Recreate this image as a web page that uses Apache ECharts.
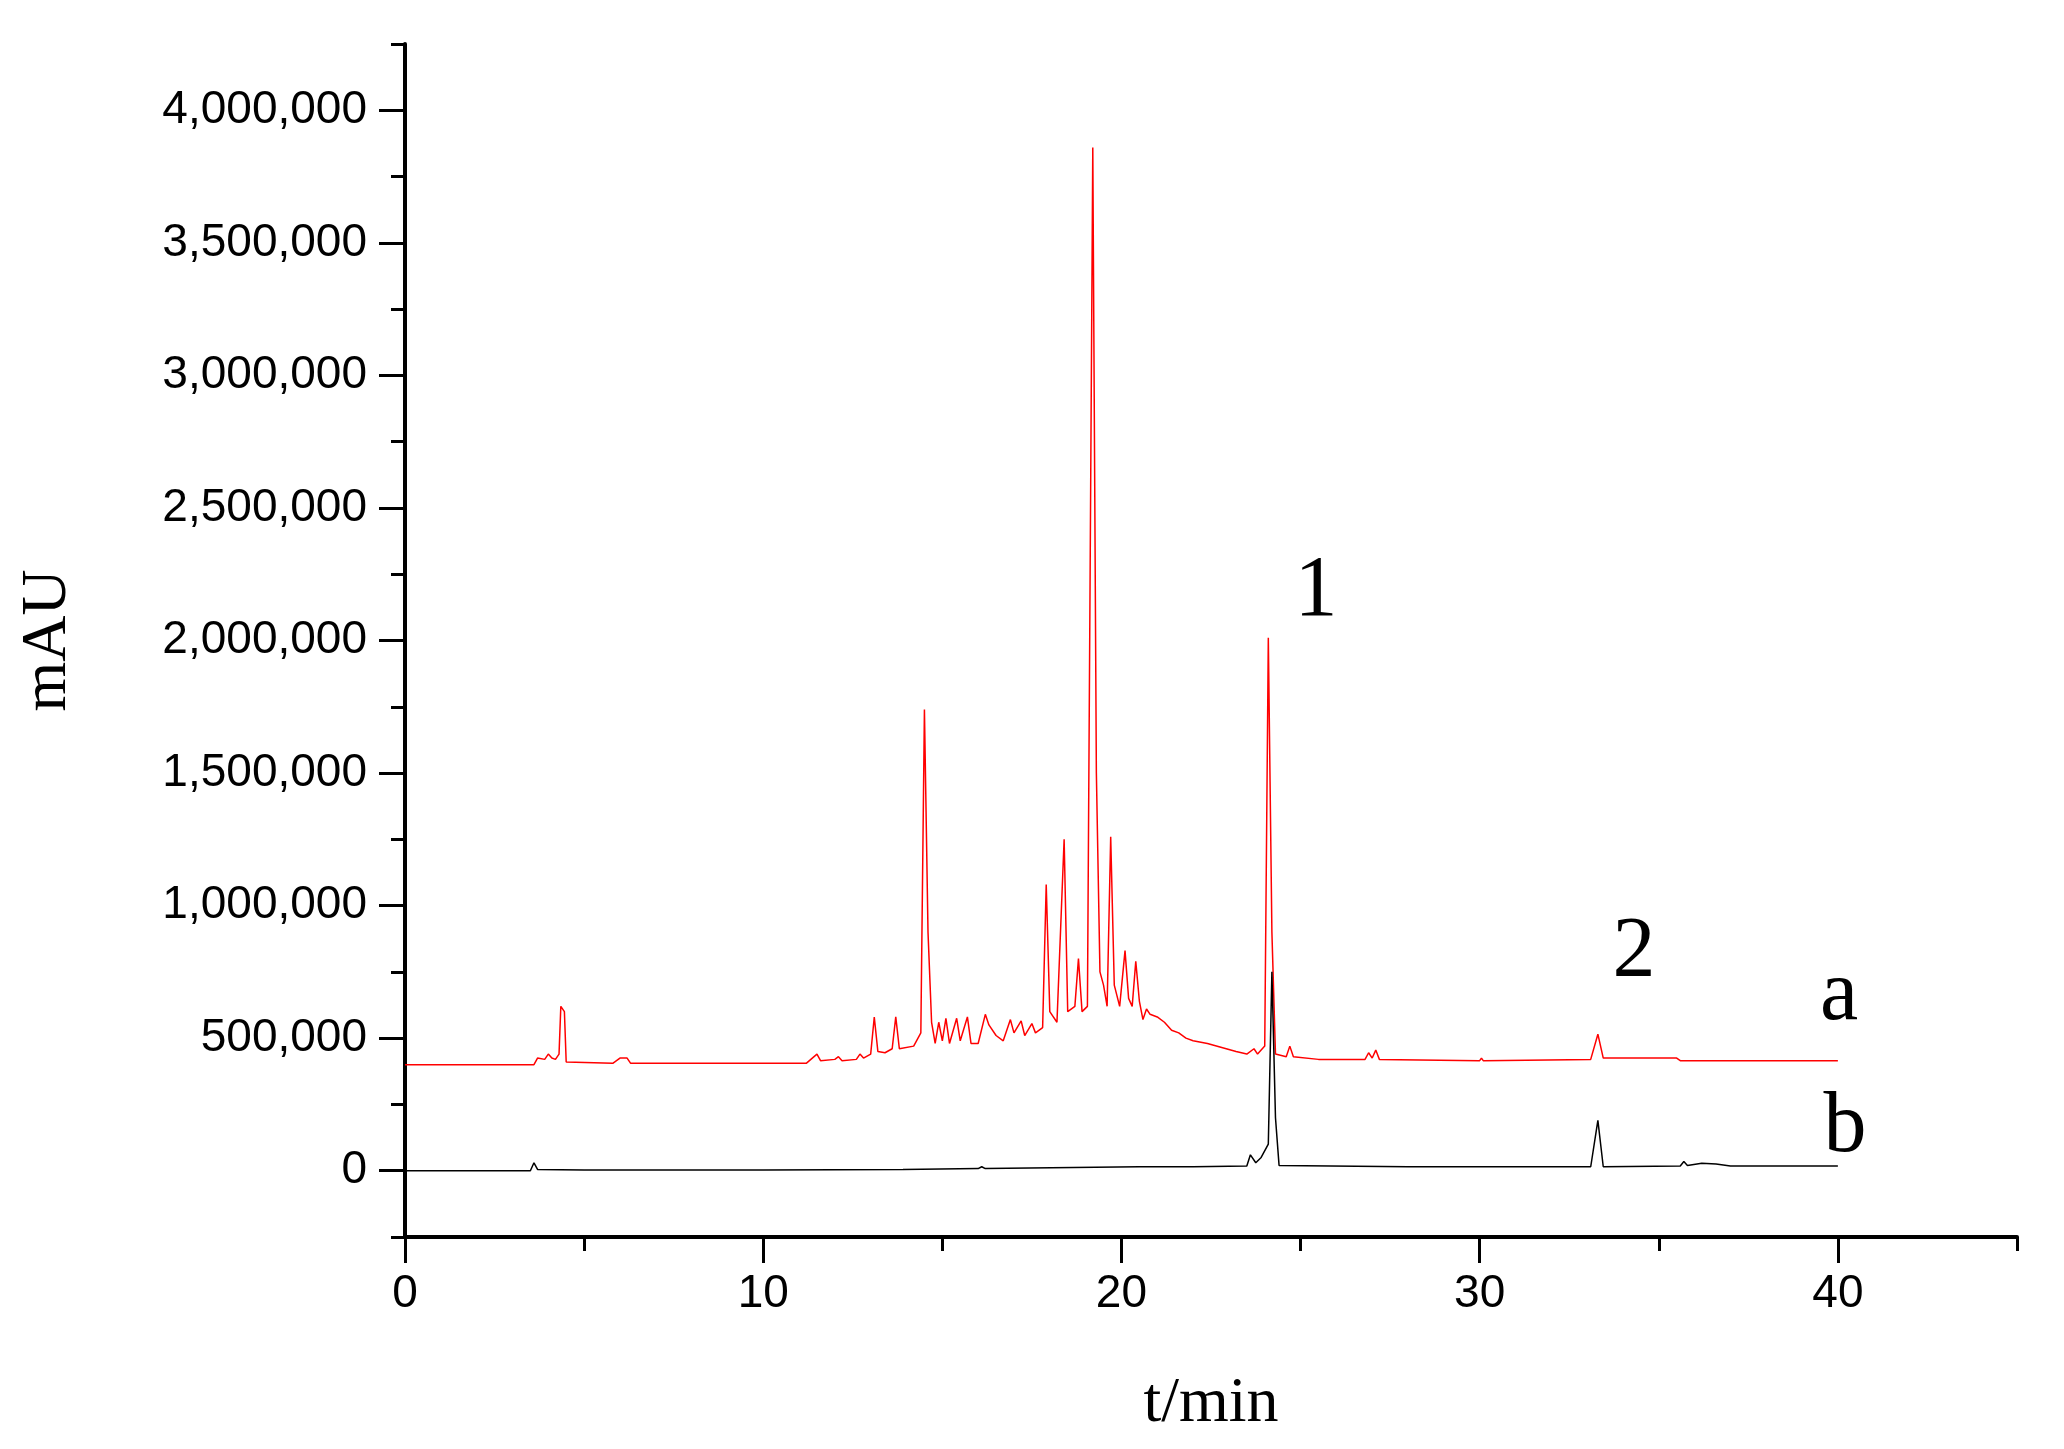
<!DOCTYPE html>
<html><head><meta charset="utf-8">
<script src="https://cdn.jsdelivr.net/npm/echarts@6/dist/echarts.min.js"></script>
<style>html,body{margin:0;background:#fff}#c{width:2064px;height:1449px}</style>
</head><body><div id="c"></div>
<script>
// time (min), signal (thousand mAU)
var seriesA = [[0,400],[3.6,400],[3.7,425],[3.9,420],[4.0,440],[4.1,425],[4.2,420],[4.3,440],[4.35,620],[4.45,600],[4.5,410],[5.8,405],[6.0,425],[6.2,425],[6.3,405],[11.2,405],[11.5,440],[11.6,415],[12.0,420],[12.1,430],[12.2,415],[12.6,420],[12.7,440],[12.8,425],[13.0,440],[13.1,580],[13.2,450],[13.4,445],[13.6,460],[13.7,580],[13.8,460],[14.2,470],[14.4,520],[14.5,1740],[14.6,900],[14.7,560],[14.8,480],[14.9,560],[15.0,490],[15.1,575],[15.2,480],[15.4,575],[15.5,490],[15.7,580],[15.8,480],[16.0,480],[16.2,590],[16.3,550],[16.5,510],[16.7,490],[16.9,570],[17.0,520],[17.2,565],[17.3,510],[17.5,555],[17.6,520],[17.8,540],[17.9,1080],[18.0,600],[18.2,560],[18.4,1250],[18.5,600],[18.7,620],[18.8,800],[18.9,600],[19.05,620],[19.2,3860],[19.3,1500],[19.4,750],[19.5,700],[19.6,620],[19.7,1260],[19.8,700],[19.95,620],[20.1,830],[20.2,650],[20.3,620],[20.4,790],[20.5,640],[20.6,570],[20.7,610],[20.8,590],[21.0,580],[21.2,560],[21.4,530],[21.6,520],[21.8,500],[22.0,490],[22.4,480],[22.8,465],[23.2,450],[23.5,440],[23.7,460],[23.8,440],[24.0,470],[24.1,2010],[24.2,900],[24.3,440],[24.6,430],[24.7,470],[24.8,430],[25.5,420],[26.8,420],[26.9,445],[27.0,425],[27.1,455],[27.2,420],[30.0,415],[30.05,425],[30.1,415],[33.1,420],[33.3,515],[33.45,425],[35.5,425],[35.6,415],[40,415]];
var seriesB = [[0,0],[3.5,0],[3.6,30],[3.7,5],[5,3],[10,3],[13.9,5],[16,8],[16.1,15],[16.2,8],[20.5,15],[22,15],[23.5,18],[23.6,60],[23.75,30],[23.9,50],[24.1,100],[24.2,750],[24.3,200],[24.4,20],[28,15],[33.1,15],[33.3,190],[33.45,15],[35.6,18],[35.7,35],[35.8,20],[36.2,28],[36.6,25],[37,18],[40,18]];
var yMajor = [0,500,1000,1500,2000,2500,3000,3500,4000];
var yMinor = [-250,250,750,1250,1750,2250,2750,3250,3750,4250];
var xMajor = [0,10,20,30,40];
var xMinor = [5,15,25,35,45];
var peakLabels = [['1',1316,592],['2',1634,953],['a',1839,996],['b',1845,1128]];

var axisStyle = {onZero:false,lineStyle:{color:'#000',width:4}};
var myChart = echarts.init(document.getElementById('c'));
var grid = {left:405, top:44, width:1612, height:1193};
function fmtY(v){ return v === 0 ? '0' : (v*1000).toLocaleString('en-US'); }
myChart.setOption({
    backgroundColor:'#fff',
    animation:false,
    grid:grid,
    xAxis:[{
        type:'value', min:0, max:45, position:'bottom',
        name:'t/min', nameLocation:'middle', nameGap:135,
        nameTextStyle:{fontFamily:'Liberation Serif',fontSize:64,color:'#000'},
        axisLine:axisStyle, splitLine:{show:false},
        axisTick:{inside:false,length:26,lineStyle:{width:3,color:'#000'},customValues:xMajor},
        axisLabel:{customValues:xMajor,fontFamily:'Liberation Sans',fontSize:46,color:'#000',margin:34}
    },{
        type:'value', min:0, max:45, position:'bottom', gridIndex:0,
        axisLine:{show:false,onZero:false}, splitLine:{show:false}, axisLabel:{show:false},
        axisTick:{length:14,lineStyle:{width:3,color:'#000'},customValues:xMinor}
    }],
    yAxis:[{
        type:'value', min:-250, max:4250,
        name:'mAU', nameLocation:'middle', nameGap:325, nameRotate:90,
        nameTextStyle:{fontFamily:'Liberation Serif',fontSize:64,color:'#000'},
        axisLine:axisStyle, splitLine:{show:false},
        axisTick:{length:26,lineStyle:{width:3,color:'#000'},customValues:yMajor},
        axisLabel:{customValues:yMajor,formatter:fmtY,fontFamily:'Liberation Sans',fontSize:46,color:'#000',margin:38}
    },{
        type:'value', min:-250, max:4250, position:'left',
        axisLine:{show:false,onZero:false}, splitLine:{show:false}, axisLabel:{show:false},
        axisTick:{length:14,lineStyle:{width:3,color:'#000'},customValues:yMinor}
    }],
    series:[
        {name:'a',type:'line',data:seriesA,showSymbol:false,lineStyle:{color:'#ff0000',width:1.5}},
        {name:'b',type:'line',data:seriesB,showSymbol:false,lineStyle:{color:'#000',width:1.5}}
    ],
    graphic: peakLabels.map(function(p){
        return {type:'text',x:p[1],y:p[2],style:{text:p[0],fontFamily:'Liberation Serif',fontSize:86,fill:'#000',align:'center',verticalAlign:'middle'}};
    })
});
</script></body></html>
